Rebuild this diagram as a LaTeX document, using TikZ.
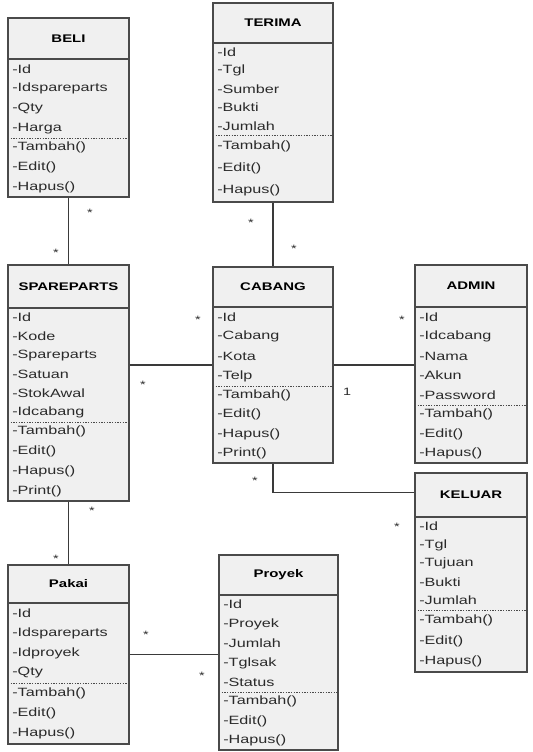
\documentclass[tikz,border=0pt]{standalone}
\usepackage{fontspec}
\setmainfont{Liberation Sans}[FakeStretch=1.35]
\usetikzlibrary{fit}
\definecolor{boxfill}{HTML}{F0F0F0}
\definecolor{boxline}{HTML}{4A4A4A}
\definecolor{textcol}{HTML}{2A2A2A}
\definecolor{connline}{HTML}{3A3A3A}
\tikzset{
 classbox/.style={draw=boxline, fill=boxfill, line width=1.2pt, inner sep=0pt},
 titlesep/.style={draw=boxline, line width=1pt},
 dashsep/.style={draw=boxline, line width=0.6pt, dash pattern=on 1pt off 1pt},
 member/.style={anchor=west, inner sep=0pt, font=\fontsize{9}{10}\selectfont, text=textcol},
 ctitle/.style={inner sep=0pt, font=\bfseries\fontsize{8.3}{10}\selectfont},
 conn/.style={draw=connline, line width=0.8pt},
 mult/.style={inner sep=0pt, font=\fontsize{8}{9}\selectfont, text=textcol}
}
\newcommand\umlclass[8]{%
 \node[classbox, fit={(#2,#4) (#3,#7)}] (#1) {};
 \draw[titlesep] (#2,#5) -- (#3,#5);
 \draw[dashsep] (#2,#6) -- (#3,#6);
 \node[ctitle] (#1-title) at ({(#2+#3)/2},{(#4+#5)/2}) {#8};
}
\newcommand\members[6]{%
 \pgfmathsetmacro\memstep{(#4-#3)/#5}%
 \foreach \t [count=\i] in {#6} {\node[member] (#1-\i) at ({#2+4},{#3+(\i-0.5)*\memstep}) {\t};}%
}
\begin{document}
\begin{tikzpicture}[x=0.75pt,y=-0.75pt]
\useasboundingbox (0,0) rectangle (532,752);

% BELI
\umlclass{beli}{8}{129}{18}{59}{138}{197}{BELI}
\members{beli-a}{8}{59}{138}{4}{-Id,-Idspareparts,-Qty,-Harga}
\members{beli-m}{8}{138}{197}{3}{-Tambah(),-Edit(),-Hapus()}

% TERIMA
\umlclass{terima}{213}{333}{3}{43}{135}{202}{TERIMA}
\members{terima-a}{213}{43}{135}{5}{-Id,-Tgl,-Sumber,-Bukti,-Jumlah}
\members{terima-m}{213}{135}{202}{3}{-Tambah(),-Edit(),-Hapus()}

% SPAREPARTS
\umlclass{spare}{8}{129}{265}{308}{422}{501}{SPAREPARTS}
\members{spare-a}{8}{308}{422}{6}{-Id,-Kode,-Spareparts,-Satuan,-StokAwal,-Idcabang}
\members{spare-m}{8}{422}{501}{4}{-Tambah(),-Edit(),-Hapus(),-Print()}

% CABANG
\umlclass{cabang}{213}{333}{267}{307}{386}{463}{CABANG}
\members{cabang-a}{213}{307}{386}{4}{-Id,-Cabang,-Kota,-Telp}
\members{cabang-m}{213}{386}{463}{4}{-Tambah(),-Edit(),-Hapus(),-Print()}

% ADMIN
\umlclass{admin}{415}{527}{265}{307}{405}{463}{ADMIN}
\members{admin-a}{415}{307}{405}{5}{-Id,-Idcabang,-Nama,-Akun,-Password}
\members{admin-m}{415}{405}{463}{3}{-Tambah(),-Edit(),-Hapus()}

% KELUAR
\umlclass{keluar}{415}{527}{473}{517}{610}{672}{KELUAR}
\members{keluar-a}{415}{517}{610}{5}{-Id,-Tgl,-Tujuan,-Bukti,-Jumlah}
\members{keluar-m}{415}{610}{672}{3}{-Tambah(),-Edit(),-Hapus()}

% Pakai
\umlclass{pakai}{8}{129}{565}{603}{683}{744}{Pakai}
\members{pakai-a}{8}{603}{683}{4}{-Id,-Idspareparts,-Idproyek,-Qty}
\members{pakai-m}{8}{683}{744}{3}{-Tambah(),-Edit(),-Hapus()}

% Proyek
\umlclass{proyek}{219}{338}{555}{595}{692}{750}{Proyek}
\members{proyek-a}{219}{595}{692}{5}{-Id,-Proyek,-Jumlah,-Tglsak,-Status}
\members{proyek-m}{219}{692}{750}{3}{-Tambah(),-Edit(),-Hapus()}

% connectors
\draw[conn] (beli.south) -- (spare.north);
\draw[conn] (terima.south) -- (cabang.north);
\draw[conn] (spare.east |- cabang.west) -- (cabang.west);
\draw[conn] (cabang.east) -- (cabang.east -| admin.west);
\draw[conn] (cabang.south) |- ([yshift=-15pt]keluar.north west);
\draw[conn] (spare.south) -- (pakai.north);
\draw[conn] (pakai.east) -- (pakai.east -| proyek.west);

% multiplicities
\node[mult] (m1) at (90,213) {*};
\node[mult] (m2) at (56,253) {*};
\node[mult] (m3) at (251,223) {*};
\node[mult] (m4) at (294,249) {*};
\node[mult] (m5) at (143,385) {*};
\node[mult] (m6) at (198,320) {*};
\node[mult] (m7) at (347,392) {1};
\node[mult] (m8) at (402,320) {*};
\node[mult] (m9) at (255,481) {*};
\node[mult] (m10) at (397,527) {*};
\node[mult] (m11) at (92,511) {*};
\node[mult] (m12) at (56,559) {*};
\node[mult] (m13) at (146,635) {*};
\node[mult] (m14) at (202,676) {*};
\end{tikzpicture}
\end{document}
